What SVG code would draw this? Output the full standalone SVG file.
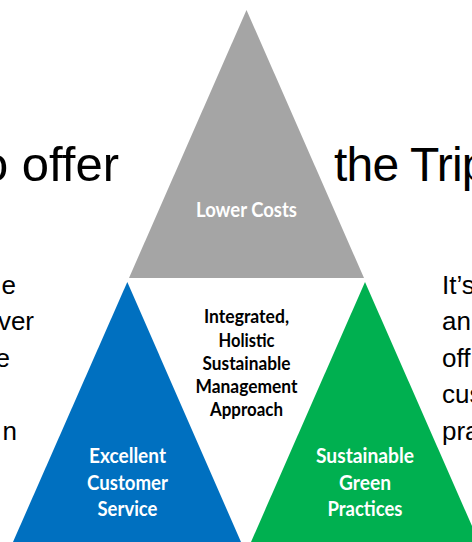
<svg xmlns="http://www.w3.org/2000/svg" width="472" height="542" viewBox="0 0 472 542">
  <style>
    .big { font-family: "Liberation Sans", Arial, sans-serif; font-size: 49px; fill: #000; }
    .body { font-family: "Liberation Sans", Arial, sans-serif; font-size: 26px; fill: #000; }
    .lbl { font-family: Lato, "Open Sans", sans-serif; font-weight: 700; text-anchor: middle; }
    .white { fill: #FFFFFF; font-size: 20px; }
    .dark { fill: #000000; font-size: 18px; }
  </style>
  <rect width="472" height="542" fill="#FFFFFF"/>

  <g id="background-text">
    <text class="big" x="-19" y="181">o offer</text>
    <text class="big" x="334" y="181" style="font-size:48px" letter-spacing="-0.8">the Trip</text>
    <g text-anchor="end">
      <text class="body" x="16" y="293.5">e</text>
      <text class="body" x="34" y="330">ver</text>
      <text class="body" x="10" y="366.5">e</text>
      <text class="body" x="17" y="440">n</text>
    </g>
    <text class="body" x="442" y="293.5">It’s</text>
    <text class="body" x="442" y="330">an</text>
    <text class="body" x="442" y="366.5">off</text>
    <text class="body" x="442" y="403">cus</text>
    <text class="body" x="442" y="440">pra</text>
  </g>

  <g id="lower-costs">
    <polygon points="246.5,10 364,278 129,278" fill="#A5A5A5"/>
    <text class="lbl white" x="246.5" y="217" textLength="101" lengthAdjust="spacingAndGlyphs">Lower Costs</text>
  </g>

  <g id="customer-service">
    <polygon points="127.3,282 241,542 13,542" fill="#0070C0"/>
    <text class="lbl white" x="127.5" y="463" textLength="77" lengthAdjust="spacingAndGlyphs">Excellent</text>
    <text class="lbl white" x="127.5" y="490" textLength="81" lengthAdjust="spacingAndGlyphs">Customer</text>
    <text class="lbl white" x="127.5" y="516" textLength="60" lengthAdjust="spacingAndGlyphs">Service</text>
  </g>

  <g id="green-practices">
    <polygon points="365,282 479,542 251,542" fill="#00B050"/>
    <text class="lbl white" x="365" y="463" textLength="98" lengthAdjust="spacingAndGlyphs">Sustainable</text>
    <text class="lbl white" x="365" y="490" textLength="52" lengthAdjust="spacingAndGlyphs">Green</text>
    <text class="lbl white" x="365" y="516" textLength="75" lengthAdjust="spacingAndGlyphs">Practices</text>
  </g>

  <g id="approach">
    <text class="lbl dark" x="246.5" y="323" textLength="85" lengthAdjust="spacingAndGlyphs">Integrated,</text>
    <text class="lbl dark" x="246.5" y="346.5" textLength="56" lengthAdjust="spacingAndGlyphs">Holistic</text>
    <text class="lbl dark" x="246.5" y="369.5" textLength="88" lengthAdjust="spacingAndGlyphs">Sustainable</text>
    <text class="lbl dark" x="246.5" y="393" textLength="102" lengthAdjust="spacingAndGlyphs">Management</text>
    <text class="lbl dark" x="246.5" y="416" textLength="73" lengthAdjust="spacingAndGlyphs">Approach</text>
  </g>
</svg>
